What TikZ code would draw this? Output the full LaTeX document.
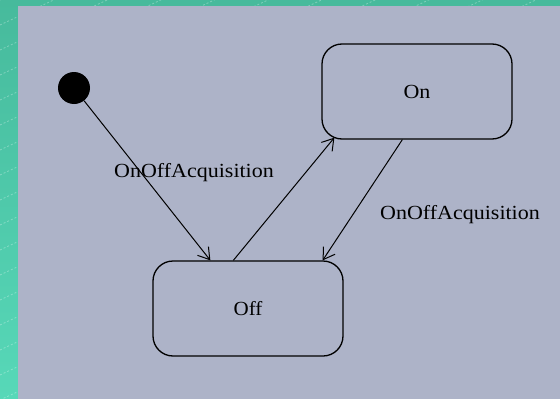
\documentclass[tikz,border=0pt]{standalone}
\usepackage{fontspec}
\setmainfont{Liberation Serif}
\usetikzlibrary{arrows.meta}
\definecolor{frametop}{HTML}{47BA9C}
\definecolor{framebottom}{HTML}{57D8B8}
\definecolor{panelgray}{HTML}{ADB3C8}
\begin{document}
\begin{tikzpicture}[x=1pt,y=-1pt,
  state/.style={draw, line width=1.3pt, rounded corners=20pt,
    minimum width=190pt, minimum height=95pt, inner sep=0pt,
    font=\fontsize{20}{24}\selectfont},
  trans/.style={line width=1pt,
    -{Straight Barb[length=11pt,width=14pt,line width=1pt]}},
  evlabel/.style={font=\fontsize{20}{24}\selectfont, inner sep=0pt},
  stripe/.style={white, opacity=.3, line width=.8pt, dash pattern=on 2pt off 2pt}]
\useasboundingbox (0,0) rectangle (560,399);
% striped teal frame
\shade[top color=frametop, bottom color=framebottom] (0,0) rectangle (560,399);
\begin{scope}
  \clip (0,0) rectangle (560,399);
  \foreach \k in {0,...,40}
    \draw[stripe] (0,25*\k) -- ++(600,-280);
\end{scope}
% grey panel
\fill[panelgray] (18,6) rectangle (560,399);

% states
\node[circle, fill=black, minimum size=32pt, inner sep=0pt] (init) at (74,88) {};
\node[state] (on) at (417,91.5) {\scalebox{1.1}[1]{On}};
\node[state] (off) at (248,308.5) {\scalebox{1.05}[1]{Off}};

% transitions
\draw[trans] (init) -- ([xshift=58pt]off.north west);
\draw[trans] ([xshift=81pt]off.north west) -- ([xshift=13pt,yshift=2pt]on.south west);
\draw[trans] ([xshift=81pt]on.south west) -- ([xshift=-21pt]off.north east);

% event labels
\node[evlabel] (ev1) at (194,173) {\scalebox{1.1}[1]{OnOffAcquisition}};
\node[evlabel] (ev2) at (460,215) {\scalebox{1.1}[1]{OnOffAcquisition}};
\end{tikzpicture}
\end{document}
